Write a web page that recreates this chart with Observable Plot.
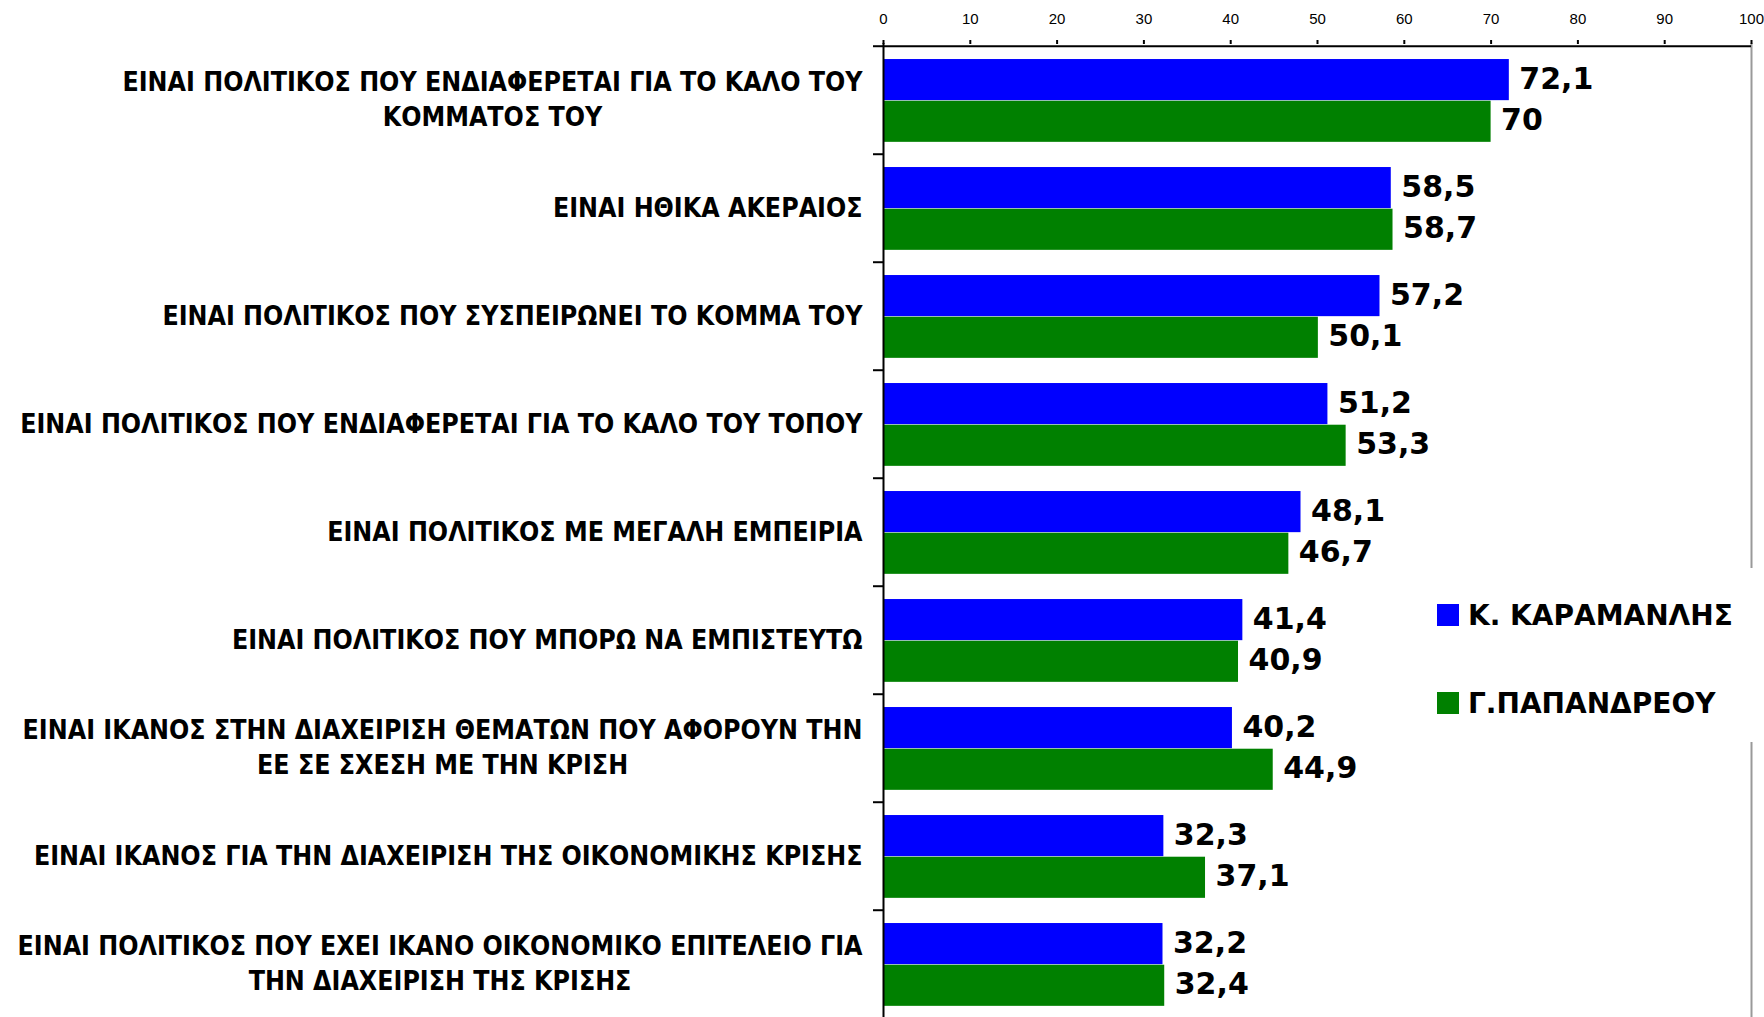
<!DOCTYPE html>
<html><head><meta charset="utf-8">
<script src="https://cdn.jsdelivr.net/npm/d3@7"></script>
<script src="https://cdn.jsdelivr.net/npm/@observablehq/plot@0.6"></script>
<style>
html,body{margin:0;padding:0;background:#fff;}
#wrap{position:relative;width:1764px;height:1017px;overflow:hidden;}
#legend{position:absolute;left:1420px;top:568px;width:344px;height:174px;background:#fff;font-family:"DejaVu Sans",sans-serif;font-weight:bold;font-size:28px;color:#000;}
.item{position:absolute;left:17px;height:34px;display:flex;align-items:center;white-space:nowrap;}
.sw{width:22px;height:22px;margin-right:9px;flex:none;}
</style></head><body><div id="wrap"></div>
<script>
// ---- data ----
const categories = [
  "ΕΙΝΑΙ ΠΟΛΙΤΙΚΟΣ ΠΟΥ ΕΝΔΙΑΦΕΡΕΤΑΙ ΓΙΑ ΤΟ ΚΑΛΟ ΤΟΥ\nΚΟΜΜΑΤΟΣ ΤΟΥ",
  "ΕΙΝΑΙ ΗΘΙΚΑ ΑΚΕΡΑΙΟΣ",
  "ΕΙΝΑΙ ΠΟΛΙΤΙΚΟΣ ΠΟΥ ΣΥΣΠΕΙΡΩΝΕΙ ΤΟ ΚΟΜΜΑ ΤΟΥ",
  "ΕΙΝΑΙ ΠΟΛΙΤΙΚΟΣ ΠΟΥ ΕΝΔΙΑΦΕΡΕΤΑΙ ΓΙΑ ΤΟ ΚΑΛΟ ΤΟΥ ΤΟΠΟΥ",
  "ΕΙΝΑΙ ΠΟΛΙΤΙΚΟΣ ΜΕ ΜΕΓΑΛΗ ΕΜΠΕΙΡΙΑ",
  "ΕΙΝΑΙ ΠΟΛΙΤΙΚΟΣ ΠΟΥ ΜΠΟΡΩ ΝΑ ΕΜΠΙΣΤΕΥΤΩ",
  "ΕΙΝΑΙ ΙΚΑΝΟΣ ΣΤΗΝ ΔΙΑΧΕΙΡΙΣΗ ΘΕΜΑΤΩΝ ΠΟΥ ΑΦΟΡΟΥΝ ΤΗΝ\nΕΕ ΣΕ ΣΧΕΣΗ ΜΕ ΤΗΝ ΚΡΙΣΗ",
  "ΕΙΝΑΙ ΙΚΑΝΟΣ ΓΙΑ ΤΗΝ ΔΙΑΧΕΙΡΙΣΗ ΤΗΣ ΟΙΚΟΝΟΜΙΚΗΣ ΚΡΙΣΗΣ",
  "ΕΙΝΑΙ ΠΟΛΙΤΙΚΟΣ ΠΟΥ ΕΧΕΙ ΙΚΑΝΟ ΟΙΚΟΝΟΜΙΚΟ ΕΠΙΤΕΛΕΙΟ ΓΙΑ\nΤΗΝ ΔΙΑΧΕΙΡΙΣΗ ΤΗΣ ΚΡΙΣΗΣ"
];
const karamanlis = [72.1, 58.5, 57.2, 51.2, 48.1, 41.4, 40.2, 32.3, 32.2];
const papandreou = [70, 58.7, 50.1, 53.3, 46.7, 40.9, 44.9, 37.1, 32.4];
const seriesNames = ["Κ. ΚΑΡΑΜΑΝΛΗΣ", "Γ.ΠΑΠΑΝΔΡΕΟΥ"];
const seriesColors = ["#0000ff", "#008000"];
const xTicks = [0, 10, 20, 30, 40, 50, 60, 70, 80, 90, 100];

// ---- layout ----
const W = 1764, H = 1017, MT = 43, MB = -3, ML = 883, MR = 13;
const step = (H - MT - MB) / categories.length;
const barTop = 0.12, barMid = 0.504, barBot = 0.888;

const blueData = categories.map((c, i) => ({category: c, value: karamanlis[i]}));
const greenData = categories.map((c, i) => ({category: c, value: papandreou[i]}));
const fmt = v => String(v).replace(".", ",");

const plot = Plot.plot({
  width: W, height: H,
  marginTop: MT, marginBottom: MB, marginLeft: ML, marginRight: MR,
  style: {fontFamily: "DejaVu Sans, sans-serif", background: "white", overflow: "visible"},
  x: {domain: [0, 100]},
  y: {type: "band", domain: categories, paddingInner: 0, paddingOuter: 0},
  marks: [
    Plot.ruleX([100], {stroke: "#999999", strokeWidth: 2}),
    Plot.barX(blueData, {x: "value", y: "category", fill: seriesColors[0],
      insetTop: step * barTop, insetBottom: step * (1 - barMid)}),
    Plot.barX(greenData, {x: "value", y: "category", fill: seriesColors[1],
      insetTop: step * barMid, insetBottom: step * (1 - barBot)}),
    Plot.text(blueData, {x: "value", y: "category", text: d => fmt(d.value),
      dx: 10, dy: -step * (0.5 - (barTop + barMid) / 2) - 1, textAnchor: "start",
      fontSize: 30, fontWeight: "bold", fill: "black"}),
    Plot.text(greenData, {x: "value", y: "category", text: d => fmt(d.value),
      dx: 10, dy: step * ((barMid + barBot) / 2 - 0.5) - 1, textAnchor: "start",
      fontSize: 30, fontWeight: "bold", fill: "black"}),
    Plot.ruleX([0], {stroke: "black", strokeWidth: 2}),
    Plot.ruleY([categories[0]], {dy: -step / 2, stroke: "black", strokeWidth: 2}),
    Plot.axisY({tickSize: 10, fill: "none", dy: -step / 2, strokeWidth: 2, label: null}),
    Plot.text(categories, {x: 0, y: d => d, text: d => d, dx: -21, dy: -3, textAnchor: "end",
      lineAnchor: "middle", lineHeight: 1.32, fontSize: 26.5, fontWeight: "bold",
      fontFamily: "DejaVu Sans Condensed, DejaVu Sans, sans-serif", fontStretch: "condensed",
      fill: "black"}),
    Plot.axisX(xTicks, {anchor: "top", tickSize: 4, tickPadding: 16, strokeWidth: 2,
      fontSize: 15, fontFamily: "Liberation Sans, Arial, sans-serif",
      label: null, tickFormat: d => String(d)})
  ]
});

const wrap = document.getElementById("wrap");
wrap.appendChild(plot);

// centre multi-line category labels on their longest line (right edge kept)
plot.querySelectorAll("text").forEach(t => {
  const spans = t.querySelectorAll("tspan");
  if (spans.length < 2) return;
  const widths = Array.from(spans, s => s.getComputedTextLength());
  const maxW = Math.max(...widths);
  t.setAttribute("text-anchor", "middle");
  t.style.textAnchor = "middle";
  spans.forEach(s => s.setAttribute("x", -maxW / 2));
});

// legend
const legend = document.createElement("div");
legend.id = "legend";
const rowCenters = [47, 135];
seriesNames.forEach((name, i) => {
  const item = document.createElement("div");
  item.className = "item";
  item.style.top = (rowCenters[i] - 17) + "px";
  const sw = document.createElement("span");
  sw.className = "sw";
  sw.style.background = seriesColors[i];
  const tx = document.createElement("span");
  tx.textContent = name;
  item.appendChild(sw); item.appendChild(tx);
  legend.appendChild(item);
});
wrap.appendChild(legend);
</script></body></html>
